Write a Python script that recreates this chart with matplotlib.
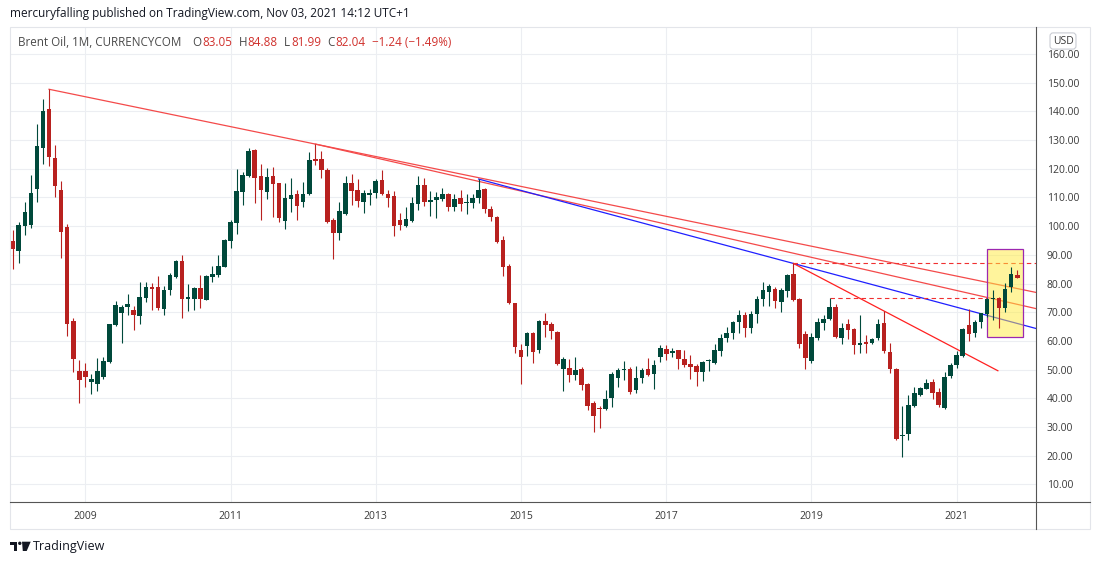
import matplotlib.pyplot as plt
import matplotlib.patches as patches
from matplotlib.lines import Line2D
from matplotlib.ticker import FormatStrFormatter
import numpy as np

plt.rcParams['font.family'] = ['Open Sans', 'DejaVu Sans']

# === 1. Monthly candles, Brent Oil (CURRENCYCOM), Jan 2008 .. Nov 2021 ===
first_year = 2008
opens = [
    94.8, 91.4, 100.2, 100.5, 112.8, 127.3, 140.7, 123.6, 112.6, 99.7, 66.9, 49.5,
    49.5, 45.8, 45.1, 47.4, 52.5, 65.5, 69.8, 71.9, 70.8, 68.8, 75.1, 78.8,
    78.8, 71.1, 77.7, 82.4, 87.8, 74.7, 74.7, 78.4, 74.4, 82.4, 82.8, 85.9,
    94.9, 101.2, 112.0, 117.6, 126.5, 117.5, 112.0, 117.5, 115.0, 101.9, 109.3, 111.2,
    108.5, 111.2, 123.4, 123.4, 119.6, 102.1, 97.7, 104.2, 114.9, 112.5, 108.5, 110.9,
    111.7, 116.1, 111.2, 110.4, 102.1, 100.0, 101.8, 107.7, 114.3, 108.5, 109.1, 109.5,
    111.3, 106.5, 109.8, 107.9, 108.2, 109.9, 113.0, 106.0, 103.3, 95.2, 86.1, 73.1,
    56.8, 58.2, 62.8, 56.8, 66.9, 65.9, 63.0, 50.2, 50.4, 48.1, 50.2, 45.0,
    38.2, 36.6, 36.2, 40.2, 47.2, 49.7, 50.2, 42.9, 46.9, 50.1, 48.4, 54.5,
    57.1, 55.7, 56.9, 53.7, 51.8, 51.3, 49.0, 53.0, 52.4, 56.6, 61.1, 62.8,
    66.7, 69.0, 64.5, 69.4, 74.6, 77.2, 78.0, 73.7, 77.5, 83.3, 74.6, 62.3,
    53.0, 60.9, 66.4, 67.6, 71.9, 61.1, 65.9, 64.2, 58.6, 59.7, 59.2, 60.9,
    66.1, 56.3, 50.2, 26.8, 27.4, 37.4, 41.2, 43.2, 45.8, 42.3, 36.5, 47.9,
    51.6, 54.7, 65.5, 62.6, 66.7, 69.3, 74.5, 74.8, 71.6, 78.7, 83.05,
]
highs = [
    98.6, 101.3, 108.3, 117.8, 135.6, 144.3, 147.7, 128.2, 115.7, 100.6, 68.0, 53.3,
    52.4, 48.5, 54.1, 54.5, 66.0, 74.0, 72.5, 76.3, 72.2, 80.5, 80.5, 80.3,
    82.6, 79.1, 83.5, 88.3, 89.8, 79.8, 78.7, 83.0, 82.9, 86.1, 89.9, 95.6,
    102.1, 120.0, 118.9, 127.2, 127.0, 121.6, 120.3, 120.6, 115.2, 114.9, 116.7, 112.6,
    115.3, 125.7, 128.6, 126.1, 120.2, 102.9, 108.5, 117.5, 118.2, 116.3, 112.6, 113.1,
    116.3, 119.6, 112.6, 112.1, 104.5, 106.8, 110.3, 117.5, 116.7, 112.2, 112.0, 113.3,
    111.7, 111.2, 112.6, 111.1, 111.2, 116.4, 113.4, 107.0, 103.6, 96.6, 86.8, 73.3,
    58.9, 63.1, 63.0, 67.3, 69.6, 66.7, 63.6, 54.5, 53.6, 54.4, 51.0, 45.4,
    39.0, 37.3, 42.9, 49.0, 50.4, 53.0, 51.0, 51.4, 50.4, 53.9, 53.3, 58.6,
    58.6, 57.4, 57.0, 56.8, 55.0, 51.8, 53.0, 53.8, 58.8, 62.4, 64.7, 66.9,
    70.8, 70.2, 70.5, 75.8, 80.5, 79.8, 78.7, 78.3, 83.3, 87.0, 74.8, 63.5,
    62.6, 67.9, 69.0, 74.9, 72.9, 66.1, 67.5, 64.6, 69.0, 62.1, 60.9, 67.5,
    70.5, 59.4, 50.4, 37.3, 41.2, 44.0, 44.0, 46.6, 46.6, 43.5, 49.0, 52.4,
    56.5, 64.6, 71.0, 67.3, 69.8, 74.8, 77.7, 75.4, 80.3, 85.6, 84.88,
]
lows = [
    85.1, 87.0, 96.9, 99.2, 108.5, 121.7, 121.1, 110.3, 89.0, 61.7, 49.3, 38.2,
    44.0, 41.5, 42.6, 46.7, 52.2, 65.2, 59.4, 69.0, 63.8, 66.0, 73.7, 70.8,
    70.8, 69.0, 76.0, 81.8, 68.1, 70.5, 70.8, 71.6, 74.2, 80.5, 82.4, 85.7,
    92.4, 97.4, 107.5, 117.0, 108.2, 102.1, 109.4, 103.2, 101.5, 99.1, 105.0, 102.1,
    106.8, 110.9, 121.2, 116.9, 101.0, 88.5, 95.2, 104.0, 107.4, 106.8, 104.7, 107.2,
    109.7, 110.9, 106.8, 96.7, 98.7, 99.8, 101.4, 105.6, 107.1, 103.6, 102.9, 108.9,
    105.4, 105.2, 105.4, 104.1, 106.4, 108.2, 104.5, 101.7, 94.2, 82.6, 72.9, 55.9,
    45.1, 54.8, 52.4, 55.9, 61.2, 60.8, 51.6, 42.6, 45.8, 46.4, 42.9, 36.0,
    28.4, 29.5, 36.0, 37.1, 44.0, 46.4, 41.5, 41.7, 45.2, 47.9, 43.2, 52.8,
    53.4, 54.5, 50.1, 50.8, 46.6, 44.4, 46.2, 49.6, 51.8, 54.7, 59.7, 60.6,
    62.9, 61.5, 62.9, 66.4, 72.2, 72.2, 71.6, 70.1, 75.4, 74.0, 57.4, 50.2,
    52.2, 60.3, 63.8, 67.4, 60.9, 58.9, 60.7, 55.4, 55.7, 55.9, 58.8, 60.3,
    55.9, 48.9, 25.5, 19.4, 25.5, 37.1, 40.9, 43.1, 39.6, 37.1, 36.2, 47.2,
    50.4, 54.5, 60.1, 61.2, 64.4, 68.4, 67.3, 64.4, 70.2, 77.2, 81.99,
]
closes = [
    92.0, 100.4, 104.8, 111.4, 127.9, 140.1, 124.2, 114.0, 98.1, 65.9, 53.8, 46.5,
    47.5, 46.7, 49.5, 53.0, 65.9, 72.4, 71.8, 72.9, 69.1, 75.2, 78.8, 78.0,
    71.3, 77.7, 82.8, 87.8, 74.6, 75.2, 78.4, 74.7, 82.6, 83.3, 86.1, 95.2,
    101.4, 112.2, 117.7, 126.2, 116.9, 112.6, 117.0, 114.8, 102.9, 109.7, 110.7, 107.1,
    111.2, 123.0, 122.7, 119.7, 101.5, 97.7, 105.4, 114.9, 112.4, 108.9, 111.5, 111.5,
    115.7, 111.1, 109.9, 100.0, 100.4, 102.5, 107.9, 114.3, 108.4, 109.1, 110.2, 111.3,
    106.5, 109.4, 107.8, 108.5, 109.8, 112.6, 106.1, 103.3, 94.5, 85.9, 73.1, 58.0,
    54.5, 62.9, 56.2, 66.9, 65.5, 63.6, 51.9, 53.7, 48.1, 49.7, 44.6, 37.3,
    33.8, 36.2, 39.6, 48.5, 49.8, 49.9, 42.3, 46.9, 49.7, 48.1, 51.6, 57.4,
    55.4, 56.5, 53.6, 51.6, 51.0, 49.0, 52.5, 53.4, 56.8, 61.1, 62.9, 66.7,
    69.0, 64.6, 69.4, 74.6, 77.7, 79.1, 74.0, 77.7, 83.0, 74.3, 58.9, 54.2,
    61.2, 66.7, 67.6, 71.9, 61.3, 64.5, 63.8, 58.6, 59.2, 59.0, 60.7, 65.9,
    56.6, 50.1, 25.8, 26.9, 37.7, 41.7, 43.5, 45.4, 42.0, 37.7, 47.5, 51.6,
    55.1, 64.0, 62.4, 66.6, 69.6, 74.6, 75.1, 71.4, 78.1, 83.3, 82.04,
]

year_labels = [2009, 2011, 2013, 2015, 2017, 2019, 2021]
price_ticks = [10, 20, 30, 40, 50, 60, 70, 80, 90, 100, 110, 120, 130, 140, 150, 160]

# drawings (month, price)
red_rays = [('2008-07', 147.7, '2012-03', 128.6),
            ('2012-03', 128.6, '2014-06', 115.6)]
blue_rays = [('2014-06', 116.4, '2018-10', 87.0)]
red_segment = ('2018-10', 87.0, '2021-08', 49.6)
dashed_levels = [('2018-10', 87.0, None), ('2019-04', 74.9, '2021-06')]
box_months = ('2021-06', '2021-12')
box_prices = (61.2, 91.9)

publisher = 'mercuryfalling published on TradingView.com, Nov 03, 2021 14:12 UTC+1'
symbol = 'Brent Oil, 1M, CURRENCYCOM'
ohlc_text = [('O', '83.05'), ('H', '84.88'), ('L', '81.99'), ('C', '82.04')]
change_text = '\u22121.24 (\u22121.49%)'

GREEN = '#00493b'
RED = '#b8211f'
W, H = 1100, 564


def month_idx(label):
    y, m = label.split('-')
    return (int(y) - first_year) * 12 + int(m) - 1


def fx(px):
    return px / W


def fy(py):
    return 1 - py / H


# === 2. Figure and axes (pixel layout of the TradingView snapshot) ===
fig = plt.figure(figsize=(W / 100, H / 100), dpi=100)
ax = fig.add_axes([fx(9.5), fy(501.7), fx(1036) - fx(9.5), fy(27) - fy(501.7)])
x_left, x_right = -0.53, 169.1
ax.set_xlim(x_left, x_right)
ax.set_ylim(3.96, 169.4)

x = np.arange(len(opens))
o = np.array(opens)
h = np.array(highs)
l = np.array(lows)
c = np.array(closes)
up = c >= o
cols = np.where(up, GREEN, RED)

# === 3. Candles ===
ax.vlines(x, l, h, colors=cols, lw=0.8, zorder=4)
body_h = np.maximum(np.abs(c - o), 0.4)
ax.bar(x, body_h, bottom=np.minimum(o, c), width=0.76, color=cols, lw=0, zorder=4)

# === 4. Trend lines, levels and box ===
for m1, p1, m2, p2 in red_rays:
    i1, i2 = month_idx(m1), month_idx(m2)
    k = (p2 - p1) / (i2 - i1)
    ax.plot([i1, x_right], [p1, p1 + k * (x_right - i1)], color='#f44a4a', lw=0.9, zorder=2)
for m1, p1, m2, p2 in blue_rays:
    i1, i2 = month_idx(m1), month_idx(m2)
    k = (p2 - p1) / (i2 - i1)
    ax.plot([i1, x_right], [p1, p1 + k * (x_right - i1)], color='#1f1fff', lw=0.9, zorder=2)
m1, p1, m2, p2 = red_segment
ax.plot([month_idx(m1), month_idx(m2) - 0.2], [p1, p2], color='#ff2020', lw=0.9, zorder=2)
for m1, p, m2 in dashed_levels:
    end = x_right if m2 is None else month_idx(m2)
    ax.plot([month_idx(m1), end], [p, p], color='#f03030', lw=0.8,
            dashes=(4, 3), zorder=2)

bx0, bx1 = month_idx(box_months[0]), month_idx(box_months[1])
ax.add_patch(patches.Rectangle((bx0, box_prices[0]), bx1 - bx0, box_prices[1] - box_prices[0],
                               facecolor='#ffeb3b', alpha=0.5, lw=0, zorder=3))
ax.add_patch(patches.Rectangle((bx0, box_prices[0]), bx1 - bx0, box_prices[1] - box_prices[0],
                               facecolor='none', edgecolor='#9c27b0', lw=0.9, zorder=3))

# === 5. Axes, grid and labels ===
ax.set_xticks([month_idx(f'{y}-01') for y in year_labels])
ax.set_xticklabels([str(y) for y in year_labels])
ax.set_yticks(price_ticks)
ax.yaxis.set_major_formatter(FormatStrFormatter('%.2f'))
ax.yaxis.tick_right()
ax.tick_params(axis='y', length=0, pad=7.6, labelsize=7.5, labelcolor='#3a3a3a')
ax.tick_params(axis='x', length=0, pad=6.5, labelsize=7.5, labelcolor='#3a3a3a')
ax.grid(True, color='#eceef2', lw=0.8)
ax.set_axisbelow(True)
for s in ax.spines.values():
    s.set_visible(False)

# frame and axis lines
fig.add_artist(patches.Rectangle((fx(9.5), fy(529)), fx(1090) - fx(9.5), fy(26.5) - fy(529),
                                 transform=fig.transFigure, facecolor='none',
                                 edgecolor='#e3e5ea', lw=0.8))
fig.add_artist(Line2D([fx(1036), fx(1036)], [fy(26.5), fy(529)], color='#555555', lw=0.8))
fig.add_artist(Line2D([fx(9.5), fx(1090)], [fy(501.7), fy(501.7)], color='#555555', lw=0.8))

fig.text(fx(1063), fy(41), 'USD', ha='center', va='center', fontsize=7.5, color='#3a3a3a',
         bbox=dict(boxstyle='round,pad=0.25,rounding_size=0.3', fc='white', ec='#c9ccd3', lw=0.8))

# header
fig.text(fx(10), fy(14), publisher, ha='left', va='center', fontsize=8.5, color='#131722')
fig.text(fx(18), fy(42), symbol, ha='left', va='center', fontsize=8.4, color='#4a4a4a')

# O/H/L/C values, each piece placed right after the previous one
renderer = fig.canvas.get_renderer()
px = 192.7
for k, v in ohlc_text:
    t = fig.text(fx(px), fy(42), k, ha='left', va='center', fontsize=8.4, color='#4a4a4a')
    px += t.get_window_extent(renderer).width + 0.5
    t = fig.text(fx(px), fy(42), v, ha='left', va='center', fontsize=8.4, color='#d0312d')
    px += t.get_window_extent(renderer).width + 6.5
fig.text(fx(px), fy(42), change_text, ha='left', va='center', fontsize=8.4, color='#d0312d')

# footer logo
fig.add_artist(patches.Polygon([(fx(10), fy(541.7)), (fx(17.5), fy(541.7)), (fx(17.5), fy(551)),
                                (fx(13.8), fy(551)), (fx(13.8), fy(545)), (fx(10), fy(545))],
                               closed=True, transform=fig.transFigure, fc='#131722', ec='none'))
fig.add_artist(patches.Ellipse((fx(19.8), fy(543.3)), 3.4 / W, 3.4 / H,
                               transform=fig.transFigure, fc='#131722', ec='none'))
fig.add_artist(patches.Polygon([(fx(22), fy(541.7)), (fx(30.7), fy(541.7)), (fx(26.7), fy(551)),
                                (fx(22.8), fy(551))],
                               closed=True, transform=fig.transFigure, fc='#131722', ec='none'))
fig.text(fx(33), fy(546.5), 'TradingView', ha='left', va='center', fontsize=9, color='#131722')

# === 6. Save ===
fig.savefig('out.png', dpi=100)
